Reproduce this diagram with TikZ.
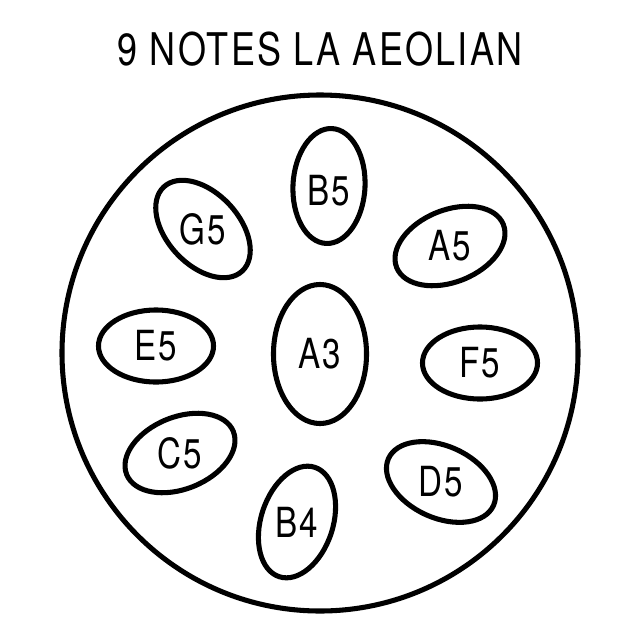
\documentclass[tikz,border=0pt]{standalone}
\usepackage{fontspec}
\setmainfont{TeX Gyre Heros}[FakeStretch=0.8, LetterSpace=5]
\usetikzlibrary{shapes.geometric}
\begin{document}
\begin{tikzpicture}[x=0.025cm, y=-0.025cm,
    pad/.style={ellipse, draw, line width=3.6pt, inner sep=0pt, minimum width=2.875cm, minimum height=1.8cm},
    note/.style={inner sep=0pt, font=\fontsize{29.5}{30}\selectfont}]
  \useasboundingbox (0,0) rectangle (640,640);
  \node[anchor=base, inner sep=0pt, font=\fontsize{32}{34}\selectfont] (title) at (320,65) {9 NOTES LA AEOLIAN};
  \draw[line width=3.6pt] (320,353) circle [radius=258];
  % tone fields
  \node[pad, minimum width=2.325cm, minimum height=3.475cm] (a3) at (320,354) {};
  \node[pad, rotate=87] (b5) at (329,186) {};
  \node[pad, rotate=-47] (g5) at (203,229) {};
  \node[pad, rotate=22] (a5) at (450,246) {};
  \node[pad] (e5) at (156,346) {};
  \node[pad] (f5) at (480,363) {};
  \node[pad, rotate=22] (c5) at (180,453) {};
  \node[pad, rotate=-24] (d5) at (441,482) {};
  \node[pad, rotate=72] (b4) at (297,522) {};
  % labels
  \node[note] (a3t) at (a3) {A3};
  \node[note, yshift=-0.12cm] (b5t) at (b5) {B5};
  \node[note] (g5t) at (g5) {G5};
  \node[note] (a5t) at (a5) {A5};
  \node[note] (e5t) at (e5) {E5};
  \node[note] (f5t) at (f5) {F5};
  \node[note] (c5t) at (c5) {C5};
  \node[note] (d5t) at (d5) {D5};
  \node[note] (b4t) at (b4) {B4};
\end{tikzpicture}
\end{document}
